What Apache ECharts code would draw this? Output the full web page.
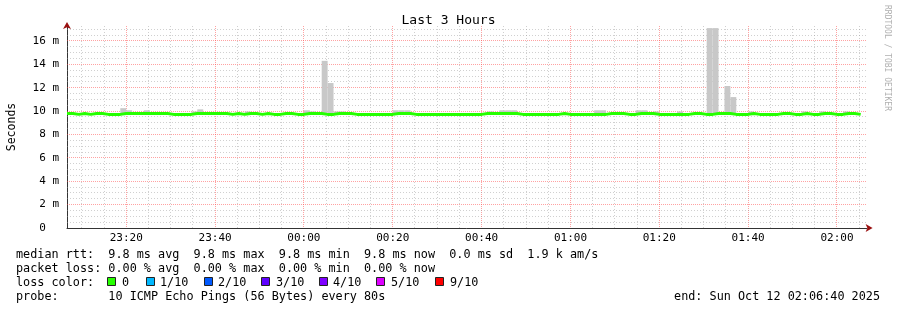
<!DOCTYPE html>
<html>
<head>
<meta charset="utf-8">
<script src="https://cdn.jsdelivr.net/npm/echarts@6/dist/echarts.min.js"></script>
<style>
html,body{margin:0;padding:0;background:#fff;}
#chart{width:897px;height:310px;}
</style>
</head>
<body>
<div id="chart"></div>
<script>
// ---- data ----
const startTime = [2025, 9, 11, 23, 6, 40];   // Sat Oct 11 23:06:40
const endTime = [2025, 9, 12, 2, 6, 40];      // Sun Oct 12 02:06:40
const stepSeconds = 80;
// median rtt per 80 s step (ms)
const medianRtt = [
  9.80,9.72,9.80,9.72,9.80,9.80,9.72,9.72,9.72,9.80,
  9.80,9.80,9.80,9.80,9.80,9.80,9.80,9.72,9.72,9.72,
  9.72,9.80,9.80,9.80,9.80,9.80,9.80,9.72,9.80,9.72,
  9.80,9.80,9.72,9.80,9.72,9.72,9.80,9.80,9.72,9.72,
  9.80,9.80,9.80,9.72,9.72,9.80,9.80,9.80,9.72,9.72,
  9.72,9.72,9.72,9.72,9.72,9.80,9.80,9.80,9.72,9.72,
  9.72,9.72,9.72,9.72,9.72,9.72,9.72,9.72,9.72,9.72,
  9.80,9.80,9.80,9.80,9.80,9.80,9.72,9.72,9.72,9.72,
  9.72,9.72,9.72,9.80,9.72,9.72,9.72,9.72,9.72,9.72,
  9.72,9.80,9.80,9.80,9.72,9.72,9.80,9.80,9.80,9.72,
  9.72,9.72,9.72,9.72,9.72,9.80,9.80,9.72,9.72,9.80,
  9.80,9.80,9.72,9.72,9.72,9.80,9.72,9.72,9.72,9.72,
  9.80,9.80,9.72,9.72,9.80,9.72,9.72,9.80,9.80,9.72,
  9.72,9.80,9.80,9.72
];
// highest ping per step (ms); null = no smoke above the median
const smokeMax = [
  null,null,null,null,null,null,null,null,null,10.25,
  10.07,null,null,10.07,null,null,null,null,null,null,
  null,9.97,10.15,null,null,null,null,null,null,null,
  9.97,null,null,null,null,null,null,null,null,null,
  10.07,9.97,null,14.3,12.4,9.97,9.97,null,null,null,
  null,null,null,null,null,10.07,10.07,10.07,null,null,
  null,null,null,null,null,null,null,null,null,null,
  null,9.97,null,10.07,10.07,10.07,null,null,null,null,
  null,null,null,null,null,null,null,null,null,10.07,
  10.07,null,null,null,null,null,10.07,10.07,null,9.97,
  null,null,null,9.97,null,null,null,null,17.1,17.1,
  null,12.15,11.2,null,null,9.97,null,null,null,null,
  null,null,null,null,9.97,null,null,9.97,null,null,
  null,9.97,null,null
];
const yMax = 17.28;
const majorYInterval = 2;
const minorYInterval = 0.5;
const lossLabels = ['0','1/10','2/10','3/10','4/10','5/10','9/10'];
const lossColors = ['#26ff00','#00b8ff','#0059ff','#5e00ff','#7e00ff','#dd00ff','#ff0000'];
const legendLines = [
  'median rtt:  9.8 ms avg  9.8 ms max  9.8 ms min  9.8 ms now  0.0 ms sd  1.9 k am/s',
  'packet loss: 0.00 % avg  0.00 % max  0.00 % min  0.00 % now',
  'loss color:',
  'probe:       10 ICMP Echo Pings (56 Bytes) every 80s'
];
const endLabel = 'end: Sun Oct 12 02:06:40 2025';

// ---- build ----
const t0 = new Date(...startTime).getTime();
const tEnd = new Date(...endTime).getTime();
const stepMs = stepSeconds * 1000;
const xs = medianRtt.map((_, i) => t0 + i * stepMs);
xs.push(t0 + medianRtt.length * stepMs);
const medPts = xs.map((x, i) => [x, medianRtt[Math.min(i, medianRtt.length - 1)]]);
const smokeData = [];
medianRtt.forEach((m, i) => {
  if (smokeMax[i] != null) smokeData.push([xs[i], xs[i + 1], m, smokeMax[i]]);
});

const majorX = [];
const vGrid = [];   // [time, 0, isMajor]
for (let t = Math.ceil(t0 / 300000) * 300000; t <= tEnd; t += 300000) {
  const major = new Date(t).getMinutes() % 20 === 0 ? 1 : 0;
  if (major) majorX.push(t);
  vGrid.push([t, 0, major]);
}
const hGrid = [];   // [t0, value, isMajor]
for (let k = 1; k * minorYInterval < yMax; k++) {
  const v = k * minorYInterval;
  const major = Math.abs(v / majorYInterval - Math.round(v / majorYInterval)) < 1e-9 ? 1 : 0;
  hGrid.push([t0, v, major]);
}
const pad = n => (n < 10 ? '0' : '') + n;
const mono = 'DejaVu Sans Mono';
const redGridColor = 'rgba(255,70,70,0.5)';
const greyGridColor = 'rgba(150,150,150,0.45)';
const arrowColor = '#9a1010';
const fontPx = '11.8px ';
const crisp = v => Math.round(v - 0.5) + 0.5;

const chart = echarts.init(document.getElementById('chart'), null, { renderer: 'canvas' });
const graphics = [];
[0, 1, 2, 3].forEach(i => {
  graphics.push({ type: 'text', left: 16, top: 248.5 + i * 14.3,
    style: { text: legendLines[i], font: fontPx + mono, fill: '#000' } });
});
const sqX = [107, 146, 204, 261, 319, 376, 435];
const lblX = [122, 160, 218, 276, 333, 391, 450];
lossColors.forEach((c, i) => {
  graphics.push({ type: 'rect', shape: { x: sqX[i] + 0.5, y: 277.5, width: 8, height: 8 },
    style: { fill: c, stroke: '#222', lineWidth: 1 } });
  graphics.push({ type: 'text', left: lblX[i], top: 277.1,
    style: { text: lossLabels[i], font: fontPx + mono, fill: '#000' } });
});
graphics.push({ type: 'text', right: 17, top: 291.4,
  style: { text: endLabel, font: fontPx + mono, fill: '#000' } });
graphics.push({ type: 'text', x: 891, y: 5, rotation: -Math.PI / 2,
  style: { text: 'RRDTOOL / TOBI OETIKER', font: '8px ' + mono, fill: '#b0b0b0', textAlign: 'left', textVerticalAlign: 'top' } });

const timeFmt = v => { const d = new Date(v); return pad(d.getHours()) + ':' + pad(d.getMinutes()); };

chart.setOption({
  backgroundColor: '#fff',
  animation: false,
  title: { text: 'Last 3 Hours', left: 'center', top: 9,
    textStyle: { fontFamily: mono, fontSize: 13, fontWeight: 'normal', color: '#000' } },
  grid: { left: 67, right: 30.4, top: 26, bottom: 82, containLabel: false, outerBoundsMode: 'none' },
  xAxis: [
    { type: 'value', min: t0, max: tEnd, scale: true,
      axisLine: { show: true, lineStyle: { color: '#333', width: 1 } },
      axisTick: { show: false, customValues: majorX },
      axisLabel: { customValues: majorX, margin: 5, fontFamily: mono, fontSize: 11, color: '#000', formatter: timeFmt },
      splitLine: { show: false } },
    { type: 'value', min: t0, max: tEnd, scale: true, position: 'bottom',
      axisLine: { show: true, lineStyle: { color: arrowColor, width: 0 }, symbol: ['none', 'arrow'], symbolSize: [6, 7], symbolOffset: [0, 6] },
      axisLabel: { show: false }, axisTick: { show: false }, splitLine: { show: false } }
  ],
  yAxis: [
    { type: 'value', min: 0, max: yMax, interval: majorYInterval,
      name: 'Seconds', nameLocation: 'middle', nameGap: 49,
      nameTextStyle: { fontFamily: mono, fontSize: 11.5, color: '#000' },
      axisLine: { show: true, lineStyle: { color: '#333', width: 1 } },
      axisTick: { show: false },
      axisLabel: { margin: 8, showMaxLabel: false, fontFamily: mono, fontSize: 11, color: '#000',
        formatter: v => v === 0 ? '0  ' : v + ' m' },
      splitLine: { show: false } },
    { type: 'value', min: 0, max: yMax, position: 'left',
      axisLine: { show: true, lineStyle: { color: arrowColor, width: 0 }, symbol: ['none', 'arrow'], symbolSize: [6, 7], symbolOffset: [0, 4] },
      axisTick: { show: false }, axisLabel: { show: false }, splitLine: { show: false } }
  ],
  graphic: graphics,
  series: [
    { name: 'vgrid', type: 'custom', data: vGrid, xAxisIndex: 0, yAxisIndex: 0,
      encode: { x: 0, y: 1 }, silent: true, z: 1, clip: false,
      renderItem: (params, api) => {
        const cs = params.coordSys;
        const x = crisp(api.coord([api.value(0), 0])[0]);
        const major = api.value(2) === 1;
        return { type: 'line', shape: { x1: x, y1: cs.y, x2: x, y2: cs.y + cs.height },
          style: { stroke: major ? redGridColor : greyGridColor, lineWidth: 1, lineDash: major ? [1, 1] : [1, 2] } };
      } },
    { name: 'hgrid', type: 'custom', data: hGrid, xAxisIndex: 0, yAxisIndex: 0,
      encode: { x: 0, y: 1 }, silent: true, z: 1, clip: false,
      renderItem: (params, api) => {
        const cs = params.coordSys;
        const y = crisp(api.coord([api.value(0), api.value(1)])[1]);
        const major = api.value(2) === 1;
        return { type: 'line', shape: { x1: cs.x, y1: y, x2: cs.x + cs.width, y2: y },
          style: { stroke: major ? redGridColor : greyGridColor, lineWidth: 1, lineDash: major ? [1, 1] : [1, 2] } };
      } },
    { name: 'smoke', type: 'custom', data: smokeData, xAxisIndex: 0, yAxisIndex: 0,
      encode: { x: [0, 1], y: [2, 3] }, silent: true, z: 3,
      renderItem: (params, api) => {
        const pTop = api.coord([api.value(0), api.value(3)]);
        const pBot = api.coord([api.value(1), api.value(2)]);
        return { type: 'rect',
          shape: { x: pTop[0], y: pTop[1], width: pBot[0] - pTop[0], height: pBot[1] - pTop[1] },
          style: { fill: '#c8c8c8' } };
      } },
    { name: 'median rtt', type: 'line', data: medPts, step: 'end', symbol: 'none',
      xAxisIndex: 0, yAxisIndex: 0, lineStyle: { color: '#26ff00', width: 3, cap: 'butt' }, silent: true, z: 5 }
  ]
});
</script>
</body>
</html>
